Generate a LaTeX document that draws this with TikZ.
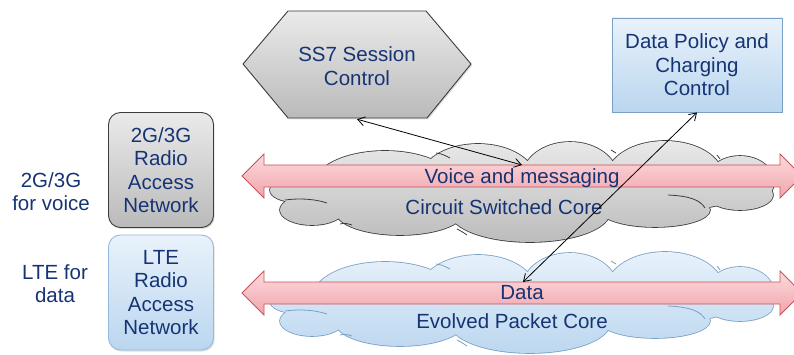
\documentclass[tikz,border=0pt]{standalone}
\usepackage{fontspec}
\setmainfont{Liberation Sans}
\usetikzlibrary{arrows.meta,shadows}

\definecolor{txtblue}{RGB}{22,52,116}
\definecolor{grayTop}{RGB}{234,234,234}
\definecolor{grayBot}{RGB}{186,186,186}
\definecolor{blueTop}{RGB}{233,242,251}
\definecolor{blueBot}{RGB}{186,214,239}
\definecolor{pinkTop}{RGB}{252,218,221}
\definecolor{pinkBot}{RGB}{241,164,171}
\definecolor{pinkLine}{RGB}{196,84,92}
\definecolor{grayLine}{RGB}{60,60,60}
\definecolor{blueLine}{RGB}{150,186,222}
\definecolor{cloudBlueLine}{RGB}{122,160,196}

% puffs of a core-network cloud (pixel-like units, y grows downwards)
\newcommand\corecloud{
  (295,190) ellipse [x radius=25pt, y radius=12pt]
  (312,210) ellipse [x radius=32pt, y radius=15pt]
  (385,186) ellipse [x radius=72pt, y radius=35pt]
  (400,212) ellipse [x radius=64pt, y radius=23pt]
  (478,180) ellipse [x radius=58pt, y radius=36pt]
  (530,212) ellipse [x radius=80pt, y radius=30pt]
  (570,178) ellipse [x radius=48pt, y radius=36pt]
  (655,210) ellipse [x radius=55pt, y radius=17pt]
  (665,177) ellipse [x radius=58pt, y radius=36pt]
  (740,182) ellipse [x radius=34pt, y radius=26pt]
  (740,195) ellipse [x radius=33pt, y radius=15pt]
  (520,193) ellipse [x radius=225pt, y radius=26pt]
}
% short fold lines drawn inside a cloud
\newcommand\cloudfolds{
  (436,153) .. controls (442,154) .. (450,158)
  (611,150) .. controls (613,151) .. (616,153)
  (717,155) .. controls (718,157) .. (720,159)
  (285,200) .. controls (300,198) and (315,199) .. (327,203)
  (340,224) .. controls (345,223) .. (352,225)
  (457,229) .. controls (461,231) .. (467,235)
  (668,195) .. controls (690,196) and (700,200) .. (705,208)
}

\begin{document}
\begin{tikzpicture}[x=1pt,y=-1pt,
  lbl/.style={text=txtblue, font=\fontsize{20.5}{23.5}\selectfont, align=center, inner sep=0pt},
  graybox/.style={draw=grayLine, line width=0.9pt, top color=grayTop, bottom color=grayBot},
  bluebox/.style={draw=blueLine, line width=0.9pt, top color=blueTop, bottom color=blueBot},
  shadowed/.style={drop shadow={shadow xshift=1.2pt, shadow yshift=-1.5pt, opacity=0.25}},
  band/.style={draw=pinkLine, line width=0.8pt, top color=pinkTop, bottom color=pinkBot},
  link/.style={draw=black, line width=0.8pt, {Straight Barb[length=7pt,width=9pt]}-{Straight Barb[length=7pt,width=9pt]}}
]
\useasboundingbox (0,0) rectangle (794,355);

% circuit switched core cloud
\path[draw=grayLine, line width=1.6pt] \corecloud;
\begin{scope}
  \clip \corecloud;
  \shade[top color=grayTop, bottom color=grayBot] (260,138) rectangle (780,246);
\end{scope}
\draw[grayLine, line width=0.8pt] \cloudfolds;

% evolved packet core cloud
\begin{scope}[yshift=-111pt]
  \path[draw=cloudBlueLine, line width=1.6pt] \corecloud;
  \begin{scope}
    \clip \corecloud;
    \shade[top color=blueTop, bottom color=blueBot] (260,138) rectangle (780,246);
  \end{scope}
  \draw[cloudBlueLine, line width=0.8pt] \cloudfolds;
\end{scope}

% two-way traffic bands
\path[band] (242,176) -- (264,154) -- (264,165) -- (780,165) -- (780,154) -- (802,176)
  -- (780,198) -- (780,187) -- (264,187) -- (264,198) -- cycle;
\path[band] (242,293) -- (264,271) -- (264,282) -- (780,282) -- (780,271) -- (802,293)
  -- (780,315) -- (780,304) -- (264,304) -- (264,315) -- cycle;

\node[lbl] (voiceLbl) at (522,178) {Voice and messaging};
\node[lbl] (cscLbl) at (504,207) {Circuit Switched Core};
\node[lbl] (dataLbl) at (522,293) {Data};
\node[lbl] (epcLbl) at (512,321) {Evolved Packet Core};

% access side
\node[lbl] (gsmLbl) at (51,191.5) {2G/3G\\for voice};
\node[lbl] (lteLbl) at (55,283.5) {LTE for\\data};
\node[lbl, graybox, shadowed, rounded corners=12pt, minimum width=105pt, minimum height=115pt]
  (ran2g) at (161,170) {2G/3G\\Radio\\Access\\Network};
\node[lbl, bluebox, shadowed, rounded corners=12pt, minimum width=105pt, minimum height=115pt]
  (ranlte) at (161,292.5) {LTE\\Radio\\Access\\Network};

% control plane
\path[graybox, shadowed] (243,64) -- (288,11) -- (426,11) -- (471,64) -- (427,118) -- (288,118) -- cycle;
\node[lbl, minimum width=228pt, minimum height=106pt] (ss7) at (357,66) {SS7 Session\\Control};
\node[lbl, bluebox, draw=cloudBlueLine, shadowed, minimum width=170pt, minimum height=94pt]
  (dpc) at (697,65) {Data Policy and\\Charging\\Control};

\coordinate (voiceTap) at (522,165);
\coordinate (dataTap) at (523,282);
\draw[link] (ss7.south) -- (voiceTap);
\draw[link] (dpc.south) -- (dataTap);
\end{tikzpicture}
\end{document}
